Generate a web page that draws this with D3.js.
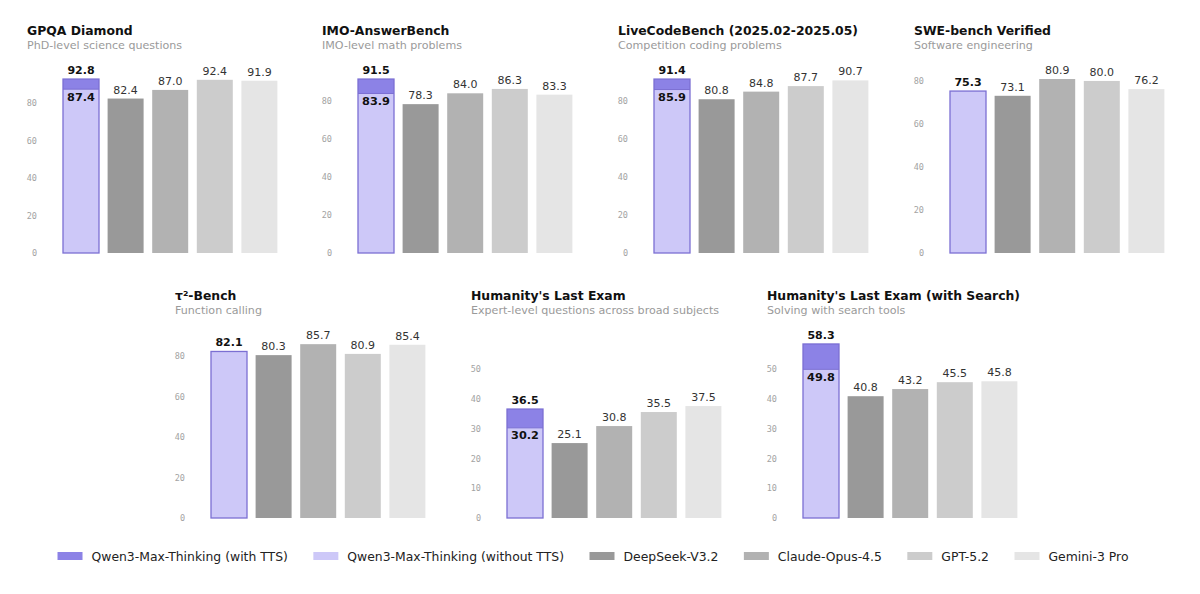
<!DOCTYPE html>
<html>
<head>
<meta charset="utf-8">
<script src="https://cdn.jsdelivr.net/npm/d3@7"></script>
<style>
  html, body { margin: 0; padding: 0; background: #fff; }
  svg { display: block; }
</style>
</head>
<body>
<svg id="chart"></svg>
<script>
const width = 1200;
const height = 594;

const benchmarks = ["GPQA Diamond", "IMO-AnswerBench", "LiveCodeBench (2025.02-2025.05)", "SWE-bench Verified",
  "τ²-Bench", "Humanity's Last Exam", "Humanity's Last Exam (with Search)"];
const subtitles = ["PhD-level science questions", "IMO-level math problems", "Competition coding problems",
  "Software engineering", "Function calling", "Expert-level questions across broad subjects", "Solving with search tools"];

const models = ["Qwen3-Max-Thinking (with TTS)", "Qwen3-Max-Thinking (without TTS)", "DeepSeek-V3.2",
  "Claude-Opus-4.5", "GPT-5.2", "Gemini-3 Pro"];

// scores per benchmark, same order as benchmarks
const qwenTTS   = [92.8, 91.5, 91.4, null, null, 36.5, 58.3];
const qwenBase  = [87.4, 83.9, 85.9, 75.3, 82.1, 30.2, 49.8];
const deepseek  = [82.4, 78.3, 80.8, 73.1, 80.3, 25.1, 40.8];
const claude    = [87.0, 84.0, 84.8, 80.9, 85.7, 30.8, 43.2];
const gpt       = [92.4, 86.3, 87.7, 80.0, 80.9, 35.5, 45.5];
const gemini    = [91.9, 83.3, 90.7, 76.2, 85.4, 37.5, 45.8];

// y-axis tops and tick labels
const yTops = [106.7, 105.2, 105.1, 93.0, 98.6, 67.0, 67.0];
const ticksHigh = [0, 20, 40, 60, 80];
const ticksLow = [0, 10, 20, 30, 40, 50];
const yTicks = [ticksHigh, ticksHigh, ticksHigh, ticksHigh, ticksHigh, ticksLow, ticksLow];

const colors = ["#8c82e6", "#cdc8f8", "#999999", "#b2b2b2", "#cccccc", "#e5e5e5"];
const qwenStroke = "#7b6fd3";

const svg = d3.select('#chart')
  .attr('width', width)
  .attr('height', height)
  .style('font-family', '"DejaVu Sans", sans-serif');

// panel layout
const panelX = [27, 322, 618, 914, 175, 471, 767];
const panelTop = [35, 35, 35, 35, 300, 300, 300];
const plotGap = 218;
const plotH = 200;
const barStep = 44.6;
const barW = 36;

benchmarks.forEach((name, i) => {

  const px = panelX[i];
  const base = panelTop[i] + plotGap;

  const g = svg.append('g');

  g.append('text')
    .attr('x', px)
    .attr('y', panelTop[i])
    .attr('font-size', '12.4px')
    .attr('font-weight', 'bold')
    .attr('fill', '#111')
    .text(name);

  g.append('text')
    .attr('x', px)
    .attr('y', panelTop[i] + 14)
    .attr('font-size', '11.1px')
    .attr('fill', '#9a9a9a')
    .text(subtitles[i]);

  const y = d3.scaleLinear()
    .domain([0, yTops[i]])
    .range([base, base - plotH]);

  const keys = models.slice(1);
  const x = d3.scaleBand()
    .domain(keys)
    .range([px + 36 - (barStep - barW) / 2, px + 36 - (barStep - barW) / 2 + barStep * keys.length])
    .paddingInner(1 - barW / barStep)
    .paddingOuter((1 - barW / barStep) / 2);

  const yAxis = g.append('g')
    .attr('transform', `translate(${px + 12},0)`)
    .call(d3.axisLeft(y).tickValues(yTicks[i]).tickSize(0).tickPadding(2));
  yAxis.select('.domain').remove();
  yAxis.selectAll('text')
    .attr('fill', '#a3a3a3')
    .attr('font-size', '8.5px')
    .attr('font-family', '"DejaVu Sans Mono", monospace');

  const vals = [qwenBase[i], deepseek[i], claude[i], gpt[i], gemini[i]];

  // competitor bars
  g.selectAll('rect.other')
    .data(keys.slice(1).map((k, j) => ({ key: k, v: vals[j + 1], c: colors[j + 2] })))
    .enter()
    .append('rect')
    .attr('class', 'other')
    .attr('x', d => x(d.key))
    .attr('width', x.bandwidth())
    .attr('y', d => y(d.v))
    .attr('height', d => base - y(d.v))
    .attr('fill', d => d.c);

  g.selectAll('text.val')
    .data(keys.slice(1).map((k, j) => ({ key: k, v: vals[j + 1] })))
    .enter()
    .append('text')
    .attr('class', 'val')
    .attr('x', d => x(d.key) + x.bandwidth() / 2)
    .attr('y', d => y(d.v) - 5)
    .attr('text-anchor', 'middle')
    .attr('font-size', '11px')
    .attr('fill', '#333')
    .text(d => d.v.toFixed(1));

  // qwen bar
  const qx = x(keys[0]);
  const bw = x.bandwidth();
  const tts = qwenTTS[i];
  const top = tts != null ? tts : qwenBase[i];

  g.append('rect')
    .attr('x', qx)
    .attr('width', bw)
    .attr('y', y(qwenBase[i]))
    .attr('height', base - y(qwenBase[i]))
    .attr('fill', colors[1]);

  if (tts != null) {
    g.append('rect')
      .attr('x', qx)
      .attr('width', bw)
      .attr('y', y(tts))
      .attr('height', y(qwenBase[i]) - y(tts))
      .attr('fill', colors[0]);
    g.append('line')
      .attr('x1', qx).attr('x2', qx + bw)
      .attr('y1', y(qwenBase[i])).attr('y2', y(qwenBase[i]))
      .attr('stroke', qwenStroke)
      .attr('stroke-width', 1);
    g.append('text')
      .attr('x', qx + bw / 2)
      .attr('y', y(qwenBase[i]) + 11.5)
      .attr('text-anchor', 'middle')
      .attr('font-size', '11.3px')
      .attr('font-weight', 'bold')
      .attr('fill', '#111')
      .text(qwenBase[i].toFixed(1));
  }

  g.append('rect')
    .attr('x', qx)
    .attr('width', bw)
    .attr('y', y(top))
    .attr('height', base - y(top))
    .attr('fill', 'none')
    .attr('stroke', qwenStroke)
    .attr('stroke-width', 1.3);

  g.append('text')
    .attr('x', qx + bw / 2)
    .attr('y', y(top) - 5)
    .attr('text-anchor', 'middle')
    .attr('font-size', '11px')
    .attr('font-weight', 'bold')
    .attr('fill', '#111')
    .text(top.toFixed(1));
});

// legend
const legend = svg.append('g');
const items = legend.selectAll('g')
  .data(models)
  .enter()
  .append('g');

items.append('rect')
  .attr('width', 25)
  .attr('height', 8)
  .attr('y', 552)
  .attr('fill', (d, i) => colors[i]);

items.append('text')
  .attr('x', 34)
  .attr('y', 561)
  .attr('font-size', '12.4px')
  .attr('fill', '#222')
  .text(d => d);

let cursor = 0;
items.each(function() {
  const t = d3.select(this).select('text').node().getComputedTextLength();
  d3.select(this).attr('transform', `translate(${cursor},0)`);
  cursor += 34 + t + 25.5;
});
const total = cursor - 25.5;
legend.attr('transform', `translate(${593 - total / 2},0)`);
</script>
</body>
</html>
